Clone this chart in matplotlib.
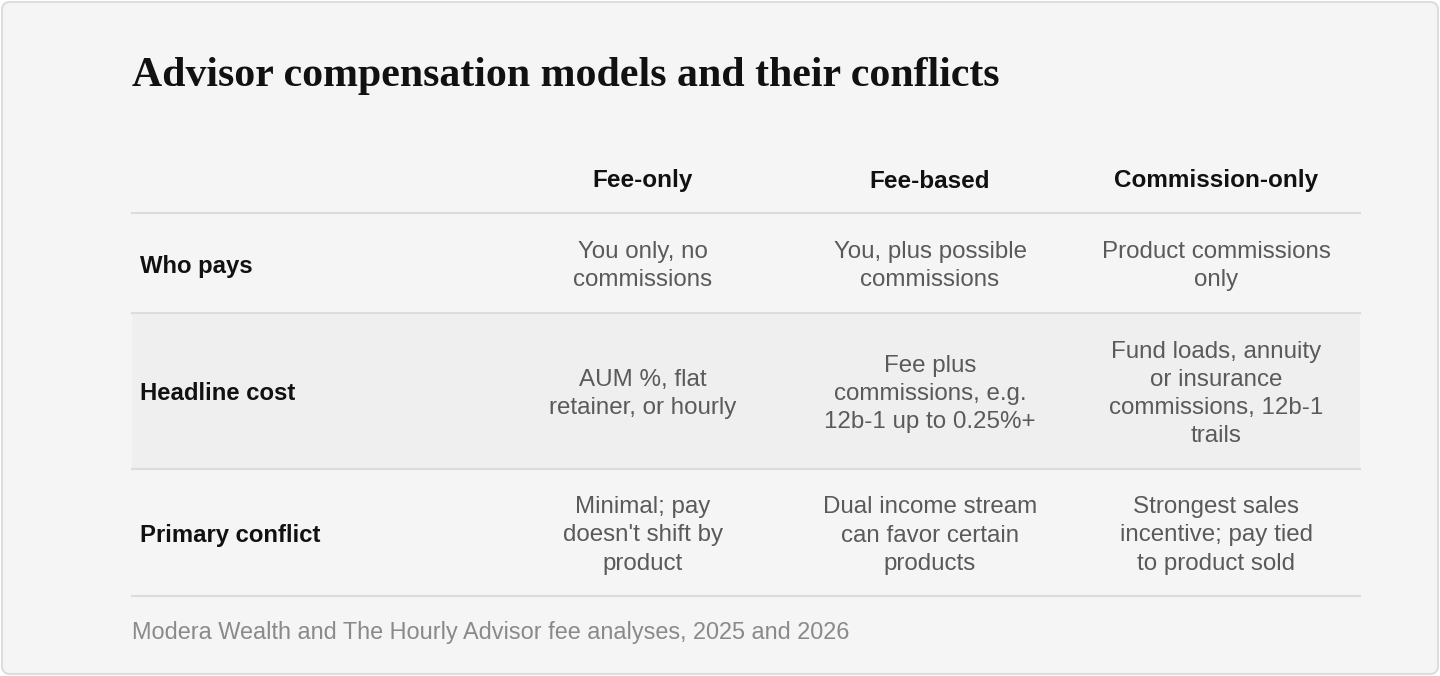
import matplotlib
matplotlib.use("Agg")
import matplotlib.pyplot as plt
from matplotlib.patches import Rectangle, FancyBboxPatch

title = "Advisor compensation models and their conflicts"
columns = ["Fee-only", "Fee-based", "Commission-only"]
rows = ["Who pays", "Headline cost", "Primary conflict"]
cells = [
    ["You only, no\ncommissions", "You, plus possible\ncommissions", "Product commissions\nonly"],
    ["AUM %, flat\nretainer, or hourly", "Fee plus\ncommissions, e.g.\n12b-1 up to 0.25%+", "Fund loads, annuity\nor insurance\ncommissions, 12b-1\ntrails"],
    ["Minimal; pay\ndoesn't shift by\nproduct", "Dual income stream\ncan favor certain\nproducts", "Strongest sales\nincentive; pay tied\nto product sold"],
]
source = "Modera Wealth and The Hourly Advisor fee analyses, 2025 and 2026"

W, H = 1440, 676
fig = plt.figure(figsize=(W/100, H/100), dpi=100)
fig.patch.set_facecolor("white")
ax = fig.add_axes([0, 0, 1, 1])
ax.set_xlim(0, W); ax.set_ylim(H, 0); ax.axis("off")

ax.add_patch(FancyBboxPatch((2, 2), W-4, H-4, boxstyle="round,pad=0,rounding_size=8",
                            fc="#f5f5f5", ec="#dddddd", lw=1.5))
sans = ["Liberation Sans", "DejaVu Sans"]
ax.text(132, 76, title, fontsize=30.2, fontweight="bold", family=["Liberation Serif", "DejaVu Serif"],
        color="#111111", va="center", ha="left")

col_x = [643, 930, 1216]
for x, c in zip(col_x, columns):
    ax.text(x, 181, c, fontsize=17.5, fontweight="bold", family=sans, color="#111111", ha="center", va="center")

bounds = [213, 313, 469, 596]
ax.add_patch(Rectangle((132, bounds[1]), 1228, bounds[2]-bounds[1], fc="#efefef", ec="none"))
for y in bounds:
    ax.plot([132, 1360], [y, y], color="#dcdcdc", lw=1.5)

for i, r in enumerate(rows):
    yc = (bounds[i] + bounds[i+1]) / 2 + 3
    ax.text(140, yc, r, fontsize=17.2, fontweight="bold", family=sans, color="#111111", ha="left", va="center")
    for x, t in zip(col_x, cells[i]):
        ax.text(x, yc, t, fontsize=17.4, family=sans, color="#5a5a5a", ha="center", va="center",
                linespacing=1.37)

ax.text(132, 632, source, fontsize=16.9, family=sans, color="#8a8a8a", ha="left", va="center")
fig.savefig("out.png", dpi=100, facecolor=fig.get_facecolor())
